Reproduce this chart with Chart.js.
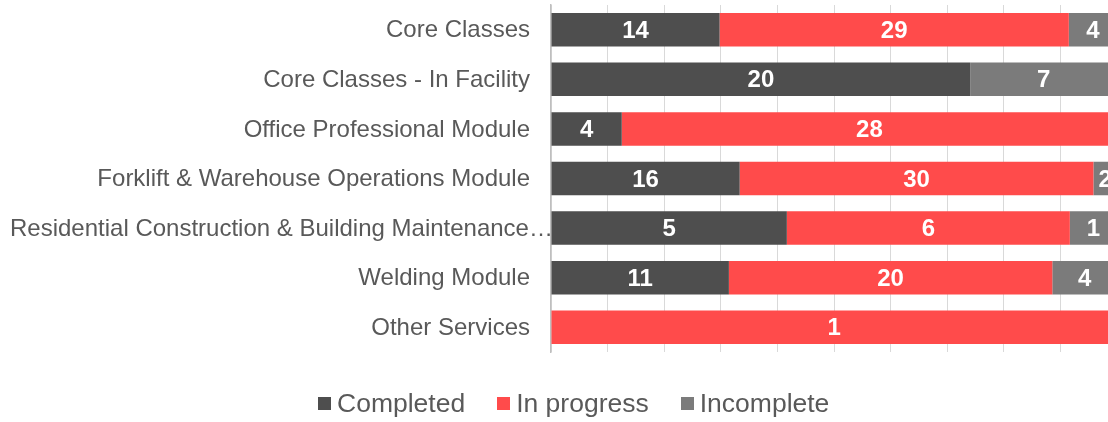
<!DOCTYPE html>
<html>
<head>
<meta charset="utf-8">
<script src="https://cdn.jsdelivr.net/npm/chart.js@4"></script>
<style>
  body { margin: 0; overflow: hidden; background: #fff; font-family: "Liberation Sans", Arial, sans-serif; }
  #wrap { position: relative; width: 1125px; height: 422px; }
  #legend { position: absolute; left: 318px; top: 388px; display: flex; align-items: center; font-size: 26.5px; color: #595959; white-space: nowrap; }
  #legend .item { display: flex; align-items: center; margin-right: 32px; }
  #legend .box { width: 13px; height: 13px; margin-right: 6px; }
</style>
</head>
<body>
<div id="wrap">
  <canvas id="chart"></canvas>
  <div id="legend"></div>
</div>
<script>
const categories = [
  'Core Classes',
  'Core Classes - In Facility',
  'Office Professional Module',
  'Forklift & Warehouse Operations Module',
  'Residential Construction & Building Maintenance…',
  'Welding Module',
  'Other Services'
];
const completed  = [14, 20, 4, 16, 5, 11, 0];
const inProgress = [29, 0, 28, 30, 6, 20, 1];
const incomplete = [4, 7, 0, 2, 1, 4, 0];

const seriesNames = ['Completed', 'In progress', 'Incomplete'];
const seriesColors = ['#4e4e4e', '#ff4b4b', '#7b7b7b'];
const seriesCounts = [completed, inProgress, incomplete];

// totals per category for the 100% stacking
const totals = categories.map((c, i) => completed[i] + inProgress[i] + incomplete[i]);

const labelFont = '24px "Liberation Sans", Arial, sans-serif';

// Draw the count inside each segment
const segmentLabels = {
  id: 'segmentLabels',
  afterDatasetsDraw(chart) {
    const ctx = chart.ctx;
    ctx.save();
    ctx.font = 'bold 24px "Liberation Sans", Arial, sans-serif';
    ctx.fillStyle = '#ffffff';
    ctx.textAlign = 'center';
    ctx.textBaseline = 'middle';
    chart.data.datasets.forEach((ds, di) => {
      const meta = chart.getDatasetMeta(di);
      meta.data.forEach((bar, i) => {
        const count = seriesCounts[di][i];
        if (!count) return;
        ctx.fillText(String(count), (bar.x + bar.base) / 2, bar.y + 1.5);
      });
    });
    ctx.restore();
  }
};

// Category names on the left; a long one starts at the left edge like the original
const categoryNames = {
  id: 'categoryNames',
  afterDraw(chart) {
    const ctx = chart.ctx;
    const yScale = chart.scales.y;
    const right = chart.chartArea.left - 21;
    ctx.save();
    ctx.font = labelFont;
    ctx.fillStyle = '#595959';
    ctx.textBaseline = 'middle';
    categories.forEach((name, i) => {
      const y = yScale.getPixelForValue(i) + 1;
      const w = ctx.measureText(name).width;
      const x = Math.max(right - w, 10);
      ctx.fillText(name, x, y);
    });
    ctx.restore();
  }
};

const chart = new Chart(document.getElementById('chart'), {
  type: 'bar',
  data: {
    labels: categories,
    datasets: seriesNames.map((name, di) => ({
      label: name,
      data: seriesCounts[di].map((v, i) => v / totals[i]),
      backgroundColor: seriesColors[di],
      borderWidth: 0,
      barPercentage: 0.676,
      categoryPercentage: 1
    }))
  },
  options: {
    indexAxis: 'y',
    responsive: true,
    maintainAspectRatio: false,
    animation: false,
    layout: { padding: { left: 0, right: 8, top: 5, bottom: 70 } },
    plugins: {
      legend: { display: false },
      tooltip: { enabled: false }
    },
    scales: {
      x: {
        stacked: true,
        min: 0,
        max: 1,
        ticks: { display: false, stepSize: 0.1 },
        grid: { color: '#d9d9d9', lineWidth: 1, drawTicks: false },
        border: { display: false }
      },
      y: {
        stacked: true,
        afterFit(scale) { scale.width = 551; },
        ticks: { display: false },
        grid: { display: false, drawTicks: false },
        border: { color: '#bfbfbf', width: 1.5 }
      }
    }
  },
  plugins: [segmentLabels, categoryNames]
});

// HTML legend
const legend = document.getElementById('legend');
seriesNames.forEach((name, di) => {
  const item = document.createElement('span');
  item.className = 'item';
  const box = document.createElement('span');
  box.className = 'box';
  box.style.background = seriesColors[di];
  const txt = document.createElement('span');
  txt.textContent = name;
  item.appendChild(box);
  item.appendChild(txt);
  legend.appendChild(item);
});
</script>
</body>
</html>
